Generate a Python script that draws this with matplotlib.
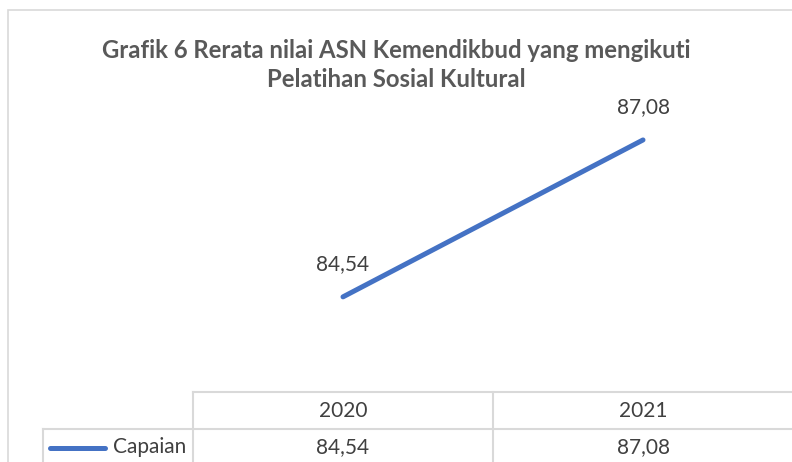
import matplotlib
matplotlib.use("Agg")
import matplotlib.pyplot as plt
from matplotlib.lines import Line2D
from matplotlib.patches import Rectangle

years = ["2020", "2021"]
series_name = "Capaian"
values = [84.54, 87.08]
value_labels = ["84,54", "87,08"]
title_lines = ["Grafik 6 Rerata nilai ASN Kemendikbud yang mengikuti",
               "Pelatihan Sosial Kultural"]

W, H = 792, 462
plt.rcParams['font.family'] = ['Lato', 'DejaVu Sans']
fig = plt.figure(figsize=(W / 100, H / 100), dpi=100)

def fx(px):
    return px / W

def fy(py):
    return 1 - py / H

LINE_C = "#4472C4"
GRID_C = "#D9D9D9"
TXT_C = "#404040"
TITLE_C = "#595959"

# chart border (cropped on right/bottom)
fig.add_artist(Rectangle((fx(8), fy(480)), fx(800) - fx(8), fy(10) - fy(480),
                         transform=fig.transFigure, fill=False, edgecolor=GRID_C, lw=1.2))

# plot area
left_px, right_px = 193, 793
top_px, bot_px = 114, 392
ax = fig.add_axes([fx(left_px), fy(bot_px), fx(right_px) - fx(left_px), fy(top_px) - fy(bot_px)])
ax.set_xlim(-0.5, len(years) - 0.5)
ax.set_ylim(83, 87.5)
ax.axis("off")
x = list(range(len(years)))
ax.plot(x, values, color=LINE_C, lw=3.6, solid_capstyle="round")
for xi, v, lab in zip(x, values, value_labels):
    ax.annotate(lab, (xi, v), xytext=(0, 16.5), textcoords="offset points",
                ha="center", va="bottom", fontsize=15, color=TXT_C)

for ty, line in zip([58, 87], title_lines):
    fig.text(fx(396), fy(ty), line, ha="center", va="baseline", fontsize=17.2,
             fontweight="bold", color=TITLE_C)

# data table
col_w = (right_px - left_px) / len(years)
row1_top, row2_top, tab_bot = 392, 429, 470
def hline(y, x0, x1):
    fig.add_artist(Line2D([fx(x0), fx(x1)], [fy(y), fy(y)], transform=fig.transFigure, color=GRID_C, lw=1.5))
def vline(xp, y0, y1):
    fig.add_artist(Line2D([fx(xp), fx(xp)], [fy(y0), fy(y1)], transform=fig.transFigure, color=GRID_C, lw=1.5))

hline(row1_top, left_px, 800)
hline(row2_top, 43, 800)
vline(left_px, row1_top, tab_bot)
vline(43, row2_top, tab_bot)
for i in range(1, len(years)):
    vline(left_px + i * col_w, row1_top, tab_bot)

for i, (yr, lab) in enumerate(zip(years, value_labels)):
    cx = left_px + (i + 0.5) * col_w
    fig.text(fx(cx), fy(411), yr, ha="center", va="center", fontsize=15, color=TXT_C)
    fig.text(fx(cx), fy(447), lab, ha="center", va="center", fontsize=15, color=TXT_C)

fig.add_artist(Line2D([fx(50), fx(105)], [fy(448), fy(448)], transform=fig.transFigure,
                      color=LINE_C, lw=3.6, solid_capstyle="round"))
fig.text(fx(186), fy(447), series_name, ha="right", va="center", fontsize=15, color=TXT_C)

fig.savefig("out.png", dpi=100)
